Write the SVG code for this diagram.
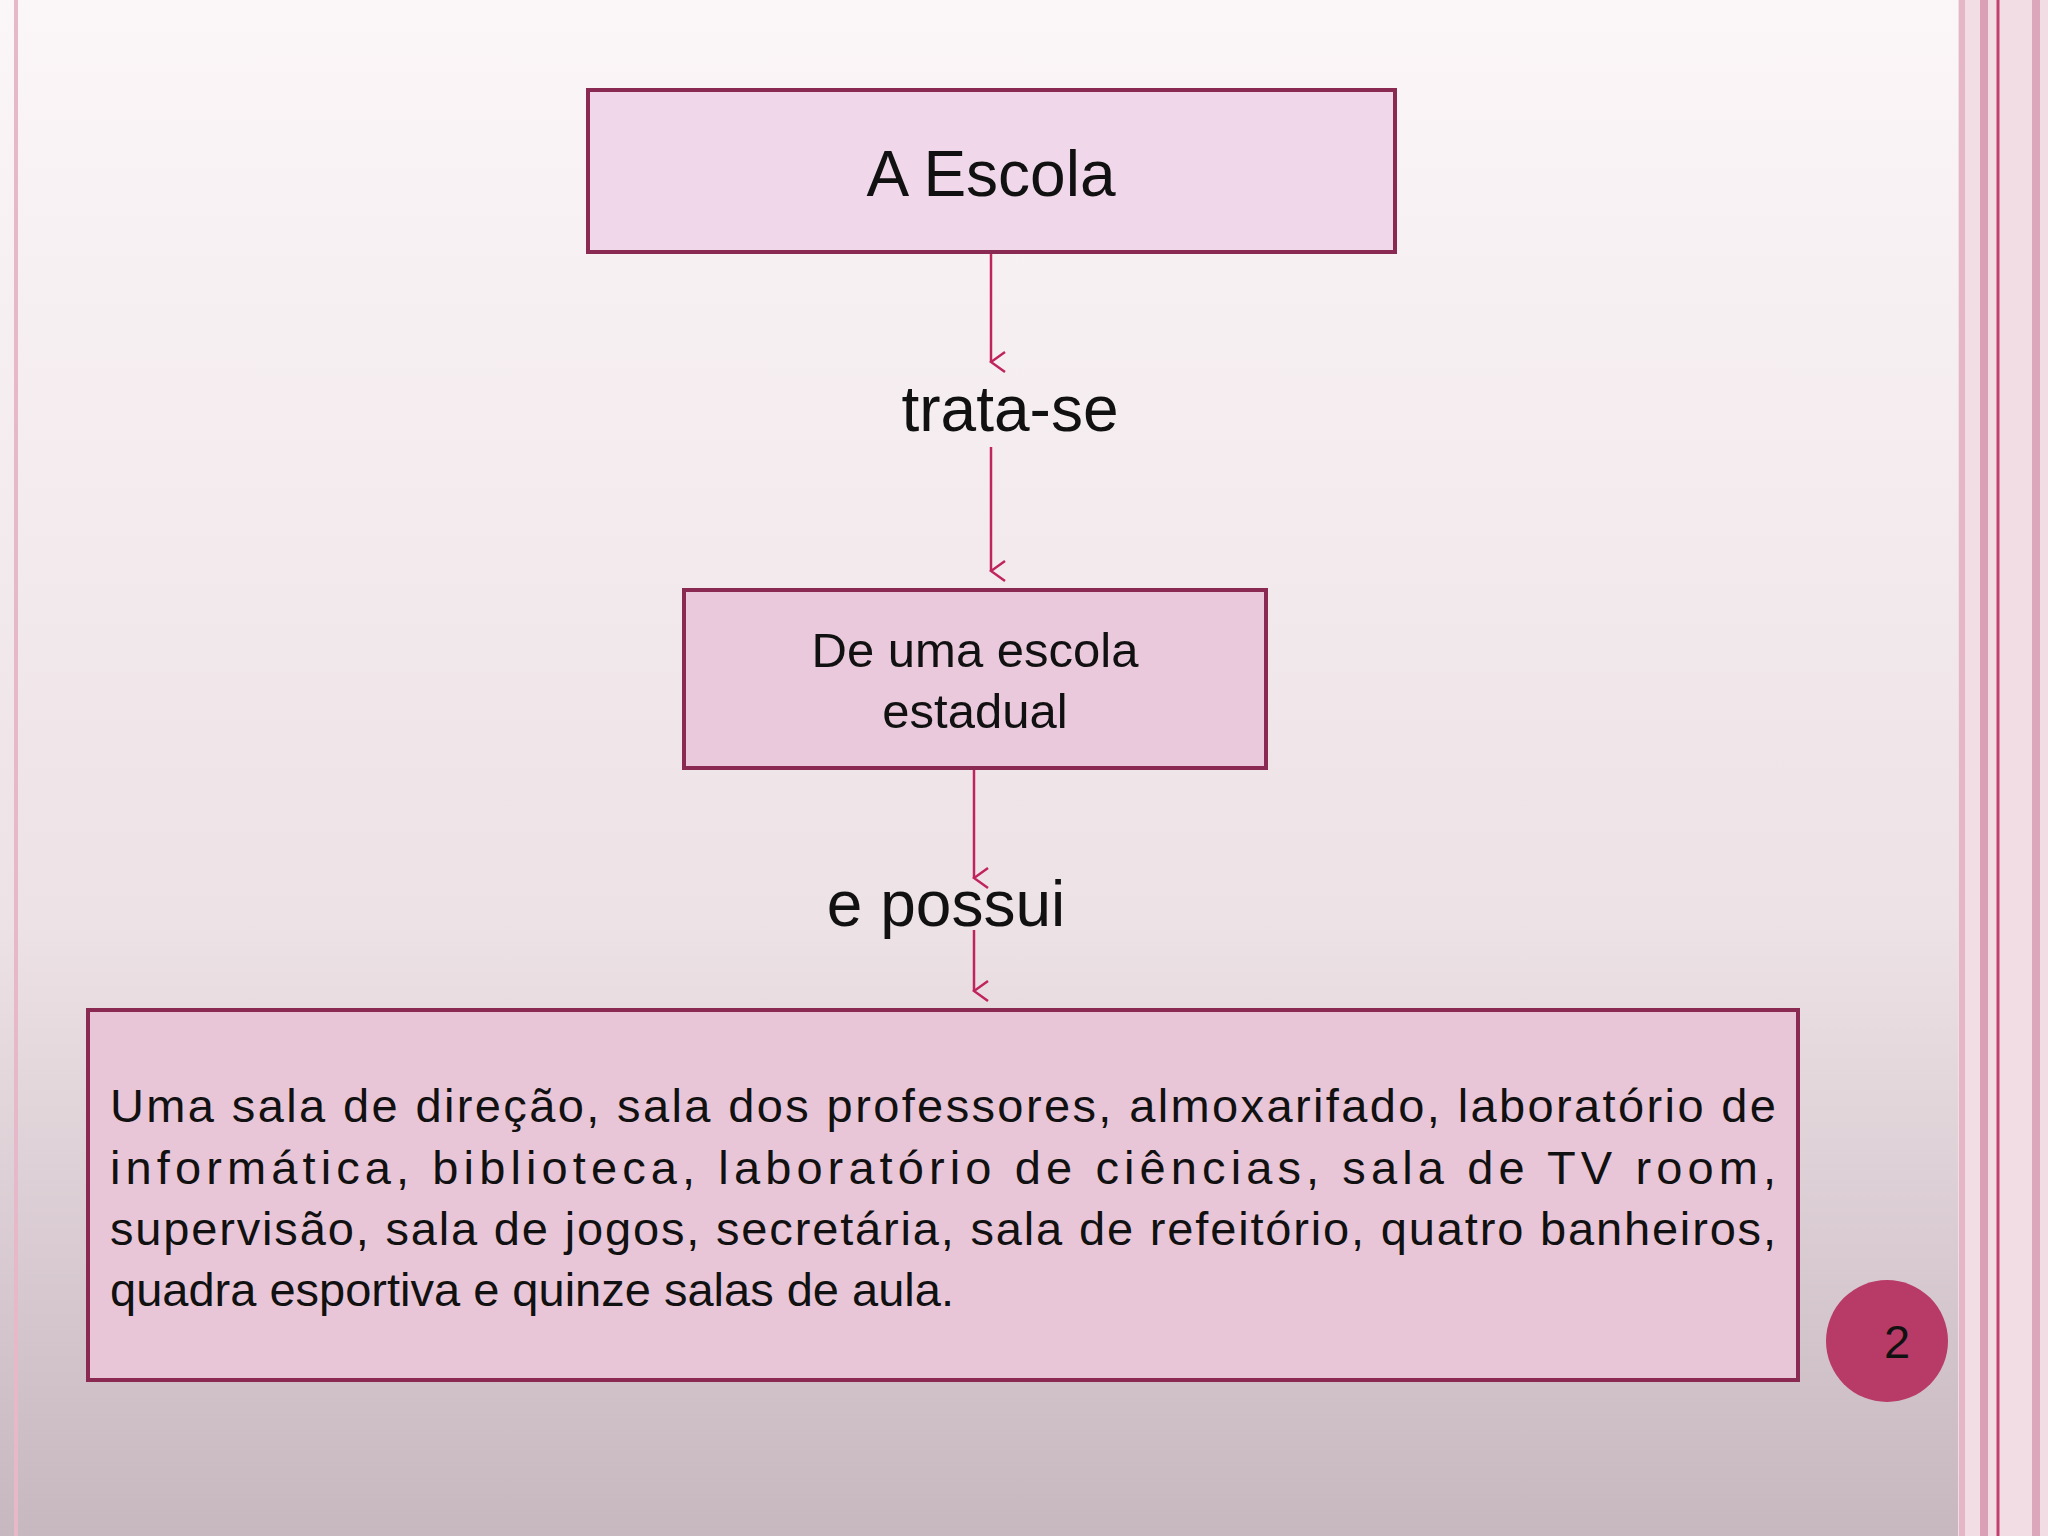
<svg xmlns="http://www.w3.org/2000/svg" width="2048" height="1536" viewBox="0 0 2048 1536">
<defs>
<linearGradient id="bg" x1="0" y1="0" x2="0" y2="1">
<stop offset="0" stop-color="#fbf6f8"/><stop offset="0.6" stop-color="#ede2e6"/><stop offset="1" stop-color="#c7b7bf"/>
</linearGradient>
<marker id="ah" markerWidth="24" markerHeight="24" refX="12" refY="22" orient="auto" markerUnits="userSpaceOnUse" viewBox="0 0 24 24">
<path d="M2 8 L12 22 L22 8" fill="none" stroke="#c0245c" stroke-width="2.5"/>
</marker>
<style>
.box{stroke:#8a2a52;stroke-width:4}
.t{font-family:"Liberation Sans",Arial,sans-serif;fill:#111}
.c{stroke:#c0245c;stroke-width:2.5;fill:none;marker-end:url(#ah)}
</style>
</defs>
<rect width="2048" height="1536" fill="url(#bg)"/>
<g id="frame">
<line x1="16" y1="0" x2="16" y2="1536" stroke="#e6b8c8" stroke-width="4"/>
<rect x="1958" y="0" width="90" height="1536" fill="#f2dde4"/>
<line x1="1962" y1="0" x2="1962" y2="1536" stroke="#e4b6c6" stroke-width="6"/>
<line x1="1984" y1="0" x2="1984" y2="1536" stroke="#d9a0b6" stroke-width="8"/>
<line x1="1998" y1="0" x2="1998" y2="1536" stroke="#c0406e" stroke-width="3"/>
<line x1="2036" y1="0" x2="2036" y2="1536" stroke="#dca7ba" stroke-width="8"/>
</g>
<g id="n1"><rect class="box" x="588" y="90" width="807" height="162" fill="#f0d8ea"/>
<text class="t" x="991" y="196" font-size="64" text-anchor="middle">A Escola</text></g>
<g id="l1"><text class="t" x="1010" y="431" font-size="64" text-anchor="middle">trata-se</text></g>
<g id="n2"><rect class="box" x="684" y="590" width="582" height="178" fill="#ebc9dc"/>
<text class="t" x="975" y="667" font-size="49" text-anchor="middle">De uma escola</text>
<text class="t" x="975" y="728" font-size="49" text-anchor="middle">estadual</text></g>
<g id="l2"><text class="t" x="946" y="926" font-size="64" text-anchor="middle">e possui</text></g>
<g id="n3"><rect class="box" x="88" y="1010" width="1710" height="370" fill="#e8c6d8"/>
<g class="t" font-size="47">
<text x="110" y="1122" textLength="1666" lengthAdjust="spacing">Uma sala de direção, sala dos professores, almoxarifado, laboratório de</text>
<text x="110" y="1184" textLength="1666" lengthAdjust="spacing">informática, biblioteca, laboratório de ciências, sala de TV room,</text>
<text x="110" y="1245" textLength="1666" lengthAdjust="spacing">supervisão, sala de jogos, secretária, sala de refeitório, quatro banheiros,</text>
<text x="110" y="1306">quadra esportiva e quinze salas de aula.</text>
</g></g>
<g id="page"><circle cx="1887" cy="1341" r="61" fill="#b83a66"/>
<text class="t" x="1897" y="1358" font-size="47" text-anchor="middle">2</text></g>
<g id="connectors">
<line class="c" x1="991" y1="254" x2="991" y2="362"/>
<line class="c" x1="991" y1="447" x2="991" y2="571"/>
<line class="c" x1="974" y1="770" x2="974" y2="878"/>
<line class="c" x1="974" y1="930" x2="974" y2="991"/>
</g>
</svg>
